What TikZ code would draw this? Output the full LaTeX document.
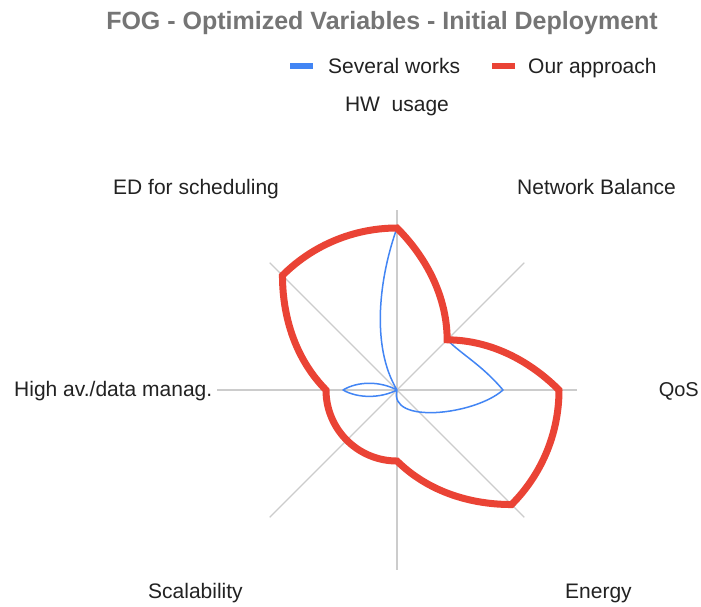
\documentclass[tikz,border=0pt]{standalone}
\usepackage{fontspec}
\setmainfont{Liberation Sans}
\definecolor{gridgray}{HTML}{CCCCCC}
\definecolor{sevblue}{HTML}{4285F4}
\definecolor{ourred}{HTML}{EA4335}
\definecolor{titlegray}{HTML}{757575}
\definecolor{labelblack}{HTML}{222222}
% easer(t, r_start, r_end, a): polar radius easing, fast change near the high end
\pgfmathdeclarefunction{easer}{4}{%
  \begingroup
  \pgfmathparse{(#2>#3)?(1-#1):(#1)}\let\ess\pgfmathresult
  \pgfmathparse{min(#2,#3)+abs(#2-#3)*(#4*\ess+(1-#4)*\ess*\ess)}%
  \pgfmathsmuggle\pgfmathresult
  \endgroup}
\begin{document}
\begin{tikzpicture}[x=1pt,y=-1pt,
  grid/.style={draw=gridgray,line width=1.3pt},
  redline/.style={draw=ourred,line width=7pt,line join=miter},
  blueline/.style={draw=sevblue,line width=1.5pt,line join=round},
  lbl/.style={inner sep=0pt,anchor=base west,text=labelblack,font=\fontsize{21}{25}\selectfont},
  titlestyle/.style={inner sep=0pt,anchor=base,text=titlegray,font=\fontsize{25}{30}\selectfont\bfseries},
]
\useasboundingbox[fill=white] (0,0) rectangle (701,606);
\coordinate (c) at (397,390);
% spokes
\foreach \ang/\nm in {90/t,45/nb,0/q,-45/e,-90/s,-135/bl,180/l,135/tl}
  \draw[grid] (c) -- ++({180*cos(\ang)},{-180*sin(\ang)}) coordinate (ax\nm);

% Several works (blue)
\coordinate (btop) at (397,228);
\coordinate (bleft) at (343,390);
\draw[blueline] (c) .. controls (370,345) and (380,275) .. (btop)
  -- plot[domain=0.002:1,samples=30,variable=\t]
     ({397+easer(\t,162,71,0.6)*cos(90-45*\t)},{390-easer(\t,162,71,0.6)*sin(90-45*\t)})
  -- plot[domain=0.002:1,samples=30,variable=\t]
     ({397+easer(\t,71,106,0)*cos(45-45*\t)},{390-easer(\t,71,106,0)*sin(45-45*\t)})
  .. controls (475,415) and (388,425) .. (c)
  .. controls (380,398.5) and (358,398.5) .. (bleft)
  .. controls (358,381) and (380,381) .. (c);

% Our approach (red)
\coordinate (rtop) at (397,228);
\draw[redline] (rtop)
  \foreach \aa/\ra/\ab/\rb in {90/162/45/71, 45/71/0/162, 0/162/-45/162, -45/162/-90/71,
     -90/71/-135/71, -135/71/-180/71, -180/71/-225/162, -225/162/-270/162}
  { -- plot[domain=0.002:1,samples=30,variable=\t]
     ({397+easer(\t,\ra,\rb,0.6)*cos(\aa+(\ab-\aa)*\t)},{390-easer(\t,\ra,\rb,0.6)*sin(\aa+(\ab-\aa)*\t)}) }
  -- cycle;

% title and legend
\node[titlestyle] (title) at (382,29) {FOG - Optimized Variables - Initial Deployment};
\fill[sevblue] (290,63) rectangle (313,69);
\node[lbl] (leg1) at (328,73) {Several works};
\fill[ourred] (492,63) rectangle (515,69);
\node[lbl] (leg2) at (528,73) {Our approach};

% axis labels
\node[lbl,anchor=base] (lhw) at (397,111) {HW\ \ usage};
\node[lbl] (led) at (113,194) {ED for scheduling};
\node[lbl] (lnb) at (517,194) {Network Balance};
\node[lbl] (lha) at (14,396) {High av./data manag.};
\node[lbl,anchor=base east,font=\fontsize{20}{24}\selectfont] (lqos) at (699,396) {QoS};
\node[lbl] (lsc) at (148,598) {Scalability};
\node[lbl] (len) at (565,598) {Energy};
\end{tikzpicture}
\end{document}
